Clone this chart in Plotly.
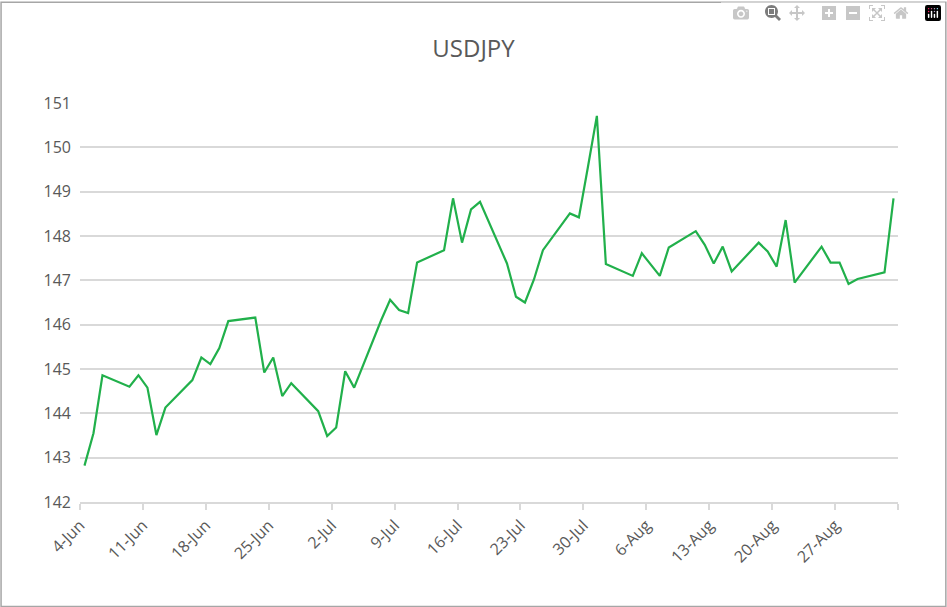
import plotly.graph_objects as go

dates = ["2025-06-04","2025-06-05","2025-06-06","2025-06-09","2025-06-10","2025-06-11","2025-06-12","2025-06-13",
         "2025-06-16","2025-06-17","2025-06-18","2025-06-19","2025-06-20","2025-06-23","2025-06-24","2025-06-25",
         "2025-06-26","2025-06-27","2025-06-30","2025-07-01","2025-07-02","2025-07-03","2025-07-04","2025-07-07",
         "2025-07-08","2025-07-09","2025-07-10","2025-07-11","2025-07-14","2025-07-15","2025-07-16","2025-07-17",
         "2025-07-18","2025-07-21","2025-07-22","2025-07-23","2025-07-24","2025-07-25","2025-07-28","2025-07-29",
         "2025-07-30","2025-07-31","2025-08-01","2025-08-04","2025-08-05","2025-08-06","2025-08-07","2025-08-08",
         "2025-08-11","2025-08-12","2025-08-13","2025-08-14","2025-08-15","2025-08-18","2025-08-19","2025-08-20",
         "2025-08-21","2025-08-22","2025-08-25","2025-08-26","2025-08-27","2025-08-28","2025-08-29","2025-09-01",
         "2025-09-02"]
values = [142.82,143.55,144.86,144.60,144.86,144.58,143.51,144.13,
          144.75,145.26,145.11,145.47,146.08,146.16,144.92,145.26,
          144.39,144.68,144.05,143.49,143.68,144.95,144.58,146.10,
          146.56,146.33,146.26,147.40,147.68,148.85,147.85,148.60,
          148.77,147.38,146.63,146.50,147.02,147.68,148.51,148.42,
          149.55,150.71,147.37,147.10,147.61,147.35,147.10,147.74,
          148.11,147.80,147.38,147.76,147.20,147.85,147.65,147.31,
          148.36,146.95,147.76,147.40,147.40,146.92,147.03,147.18,
          148.85]
tick_dates = ["2025-06-04","2025-06-11","2025-06-18","2025-06-25","2025-07-02","2025-07-09","2025-07-16",
              "2025-07-23","2025-07-30","2025-08-06","2025-08-13","2025-08-20","2025-08-27","2025-09-03"]
tick_labels = ["4-Jun","11-Jun","18-Jun","25-Jun","2-Jul","9-Jul","16-Jul",
               "23-Jul","30-Jul","6-Aug","13-Aug","20-Aug","27-Aug",""]

fig = go.Figure(go.Scatter(x=[d + " 12:00" for d in dates], y=values, mode="lines",
                           line=dict(color="#21b04b", width=2.2)))
gray = "#595959"
fig.update_layout(
    width=947, height=607, paper_bgcolor="white", plot_bgcolor="white",
    margin=dict(l=80, r=49, t=103, b=105),
    title=dict(text="USDJPY", x=0.5, xanchor="center", y=0.92, yanchor="middle",
               font=dict(size=24, color=gray, family="Open Sans")),
    font=dict(family="Open Sans", size=16, color=gray),
    showlegend=False,
    xaxis=dict(type="date", range=["2025-06-04", "2025-09-03"], tickmode="array",
               tickvals=tick_dates, ticktext=tick_labels, tickangle=-45,
               showgrid=False, showline=True, linecolor="#d9d9d9", linewidth=1.5,
               ticks="outside", ticklen=6, tickcolor="#d9d9d9", tickwidth=1.5),
    yaxis=dict(range=[142, 151], dtick=1, showgrid=True, gridcolor="#d9d9d9", gridwidth=1.5,
               zeroline=False, showline=False, ticks="", ticklabelstandoff=8),
    shapes=[dict(type="rect", xref="paper", yref="paper", x0=-0.0965, x1=1.0585, y0=-0.262, y1=1.2525,
                 line=dict(color="#a6a6a6", width=1.5))],
)
fig.write_html("out.html", post_script="document.body.style.margin='0';document.body.style.overflow='hidden';")
